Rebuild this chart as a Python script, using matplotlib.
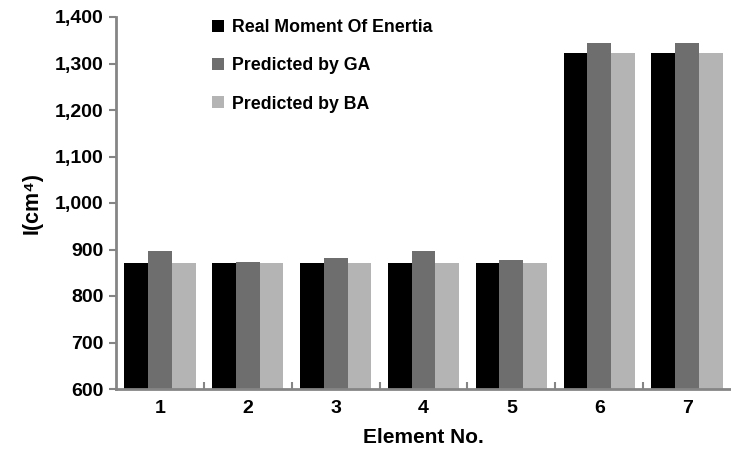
"""Moment of inertia per element: real vs GA vs BA predictions (grouped bars)."""

import matplotlib.pyplot as plt
import numpy as np

plt.rcParams["font.family"] = ["Liberation Sans", "DejaVu Sans"]
plt.rcParams["font.weight"] = "bold"

elements = ["1", "2", "3", "4", "5", "6", "7"]
real_moment = [870, 870, 870, 870, 870, 1322, 1322]
predicted_ga = [896, 873, 881, 896, 878, 1345, 1345]
predicted_ba = [870, 870, 870, 870, 870, 1322, 1322]
series_labels = ["Real Moment Of Enertia", "Predicted by GA", "Predicted by BA"]
y_ticks = [600, 700, 800, 900, 1000, 1100, 1200, 1300, 1400]

COLORS = ["#000000", "#6e6e6e", "#b4b4b4"]
AXIS_GREY = "#858585"

W, H = 731, 451
fig = plt.figure(figsize=(W / 100, H / 100), dpi=100)
ax = fig.add_axes([116 / W, 62 / H, (W - 116) / W, 372 / H])

x = np.arange(len(elements))
bw = 0.27
for i, (vals, lab) in enumerate(zip([real_moment, predicted_ga, predicted_ba], series_labels)):
    ax.bar(x + (i - 1) * bw, vals, width=bw, color=COLORS[i], label=lab, zorder=2)

ax.set_xlim(-0.5, len(elements) - 0.5)
ax.set_ylim(600, 1400)
ax.set_yticks(y_ticks)
ax.set_yticklabels([f"{v:,}" for v in y_ticks])
ax.set_xticks(x)
ax.set_xticklabels(elements)
ax.set_xticks(np.arange(0.5, len(elements) - 0.5, 1.0), minor=True)

ax.tick_params(axis="y", direction="out", length=5, width=1.5, color=AXIS_GREY,
               labelsize=14, pad=4)
ax.tick_params(axis="x", which="major", length=0, labelsize=14, pad=8)
ax.tick_params(axis="x", which="minor", direction="in", length=5, width=1.5,
               color=AXIS_GREY)

for side in ["top", "right"]:
    ax.spines[side].set_visible(False)
for side in ["left", "bottom"]:
    ax.spines[side].set_color(AXIS_GREY)
    ax.spines[side].set_linewidth(2)

ax.set_ylabel("I(cm\u2074)", fontsize=15.5, fontweight="bold", labelpad=9)
ax.set_xlabel("Element No.", fontsize=15, fontweight="bold", labelpad=8)

ax.legend(
    loc="upper left",
    bbox_to_anchor=(196 / W, 1 - 3 / H),
    bbox_transform=fig.transFigure,
    frameon=False,
    fontsize=12.8,
    handlelength=0.65,
    handleheight=0.65,
    handletextpad=0.5,
    labelspacing=1.2,
)

fig.savefig("out.png", dpi=100)
